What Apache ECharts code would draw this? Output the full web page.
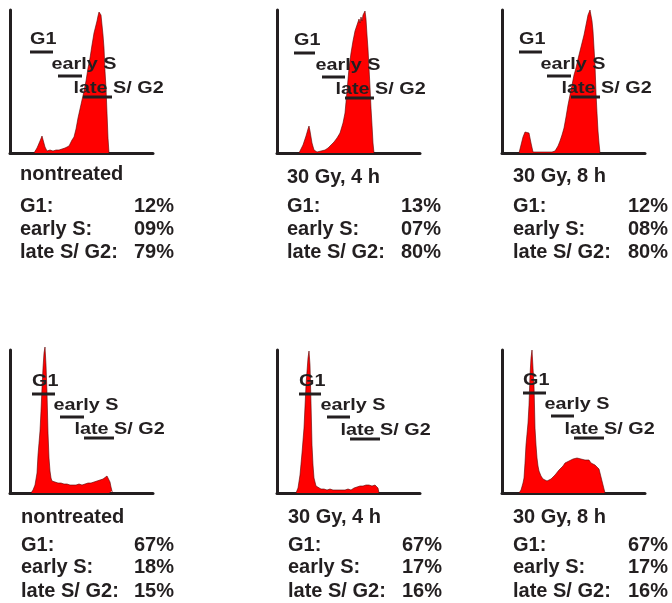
<!DOCTYPE html>
<html>
<head>
<meta charset="utf-8">
<script src="https://cdn.jsdelivr.net/npm/echarts@6/dist/echarts.min.js"></script>
<style>html,body{margin:0;padding:0;background:#fff}#c{width:672px;height:603px}</style>
</head>
<body>
<div id="c"></div>
<script>
// ---- data (channel, count) ----
const histTop1 = [[24,0],[27,5],[30,12],[32,17],[33,15],[35,6],[37,2],[40,3],[43,2],[46,3],[49,3],[52,4],[55,5],[57,4],[59,7],[61,9],[62,13],[64,16],[66,24],[68,35],[70,44],[72,53],[74,62],[76,72],[78,85],[80,95],[82,108],[84,120],[86,128],[87,132],[88,137],[89,141],[90,143],[91,138],[92,128],[93,118],[94,105],[95,82],[96,65],[97,40],[98,15],[99,0]];
const histTop2 = [[22,0],[26,8],[29,17],[31,24],[32,27],[33,22],[35,10],[37,3],[40,1],[44,2],[48,3],[51,5],[54,8],[57,11],[60,15],[63,20],[66,30],[68,40],[70,62],[72,85],[74,100],[76,112],[78,122],[80,128],[82,134],[83,130],[84,136],[85,132],[86,138],[87,136],[88,142],[89,134],[90,118],[91,104],[92,85],[93,66],[94,45],[95,28],[96,10],[97,0]];
const histTop3 = [[17,0],[19,8],[21,16],[23,21],[25,23],[27,20],[29,10],[31,1],[35,1],[40,1],[45,1],[50,1],[53,2],[56,7],[58,12],[60,18],[62,25],[64,36],[66,48],[68,58],[70,68],[72,78],[74,85],[76,94],[78,102],[80,110],[82,118],[84,128],[86,138],[88,143],[89,142],[90,132],[91,122],[92,105],[93,88],[94,60],[95,40],[96,22],[97,10],[98,0]];
const histBot1 = [[21,0],[23,3],[25,8],[27,20],[28,38],[30,62],[31,82],[32,105],[33,125],[34,140],[35,146],[36,128],[37,100],[38,60],[39,35],[40,22],[41,15],[42,12],[45,11],[48,10],[51,10],[54,9],[57,9],[60,8],[63,8],[66,8],[69,9],[72,8],[75,9],[78,10],[81,10],[84,11],[87,12],[90,13],[93,14],[95,16],[97,17],[99,15],[100,11],[101,6],[102,2],[103,0]];
const histBot2 = [[19,0],[21,5],[23,18],[25,40],[27,65],[29,108],[31,135],[32,142],[33,128],[34,90],[35,48],[36,28],[37,15],[39,7],[41,5],[44,4],[47,4],[50,3],[53,4],[56,3],[59,3],[62,3],[65,3],[68,3],[71,4],[74,3],[77,5],[80,6],[83,7],[86,7],[89,8],[92,8],[95,7],[98,8],[100,9],[101,5],[102,0]];
const histBot3 = [[17,0],[19,3],[21,10],[22,15],[23,30],[24,48],[26,70],[27,88],[28,118],[29,135],[30,143],[31,125],[32,108],[33,65],[34,48],[35,35],[36,27],[37,22],[39,17],[41,14],[43,13],[45,12],[47,13],[49,14],[51,16],[53,18],[55,20],[57,23],[59,25],[61,27],[63,30],[65,31],[67,32],[69,33],[71,34],[73,33],[75,35],[77,36],[79,34],[81,35],[83,33],[85,32],[87,33],[89,30],[91,31],[93,28],[95,27],[97,24],[98,20],[99,16],[100,12],[101,8],[102,4],[103,0]];

// gates: [start channel, end channel, marker level]
const gateNames = ['G1', 'early S', 'late S/ G2'];
const gatesTop1 = [[20,43,101],[48,72,77],[73,102,56]];
const gatesTop2 = [[17,38,100],[45,68,76],[68,97,55]];
const gatesTop3 = [[17,40,101],[45,69,77],[69,98,56]];
const gatesBot1 = [[22,45,99],[50,74,76],[74,104,55]];
const gatesBot2 = [[22,44,99],[50,73,76],[73,103,54]];
const gatesBot3 = [[21,44,100],[49,72,77],[72,102,55]];

const titles = ['nontreated', '30 Gy, 4 h', '30 Gy, 8 h', 'nontreated', '30 Gy, 4 h', '30 Gy, 8 h'];
const rowLabels = ['G1:', 'early S:', 'late S/ G2:'];
const pctG1 = ['12%', '13%', '12%', '67%', '67%', '67%'];
const pctEarlyS = ['09%', '07%', '08%', '18%', '17%', '17%'];
const pctLateSG2 = ['79%', '80%', '80%', '15%', '16%', '16%'];

const hists = [histTop1, histTop2, histTop3, histBot1, histBot2, histBot3];
const gates = [gatesTop1, gatesTop2, gatesTop3, gatesBot1, gatesBot2, gatesBot3];

// ---- layout ----
const axisMax = 143;
const gridPos = [[10,10],[277,10],[502,10],[10,350],[277,350],[502,350]];
const textLeft = [20, 287, 513, 21, 288, 513];
const valRight = [174, 441, 668, 174, 442, 668];
const titleY = [[174, 177, 176], [517, 517, 517]];
const rowsY = [[206, 229, 252], [545, 567.5, 591.5]];
const INK = '#231f20';
const FONT = '"Liberation Sans", Arial, sans-serif';
const labelOffsets = [[0, 7], [-6.5, 6.5], [-9.5, 3]];

const chart = echarts.init(document.getElementById('c'), null, {renderer: 'canvas'});

const grid = [], xAxis = [], yAxis = [], series = [], graphic = [];
gridPos.forEach((p, i) => {
  grid.push({left: p[0], top: p[1], width: axisMax, height: axisMax});
  const ax = {
    type: 'value', min: 0, max: axisMax, gridIndex: i,
    axisLine: {show: true, lineStyle: {color: INK, width: 3}},
    axisTick: {show: false}, axisLabel: {show: false}, splitLine: {show: false}
  };
  xAxis.push(Object.assign({}, ax));
  yAxis.push(Object.assign({}, ax));
  series.push({
    type: 'line', xAxisIndex: i, yAxisIndex: i, data: hists[i],
    showSymbol: false, clip: false, z: 2,
    lineStyle: {color: '#5a0000', width: 0.6},
    areaStyle: {color: '#ff0000', opacity: 1}
  });
  series.push({
    type: 'custom', xAxisIndex: i, yAxisIndex: i, z: 5, clip: false,
    data: gates[i].map((g, k) => [g[0], g[1], g[2], k]),
    renderItem: function (params, api) {
      const k = api.value(3);
      const a = api.coord([api.value(0), api.value(2)]);
      const b = api.coord([api.value(1), api.value(2)]);
      const off = labelOffsets[k];
      const fs = 16.5;
      return {
        type: 'group',
        children: [
          {type: 'line', shape: {x1: a[0], y1: a[1], x2: b[0], y2: b[1]},
           style: {stroke: INK, lineWidth: 3}},
          {type: 'text', x: a[0] + off[0], y: a[1] - off[1] - 0.31 * fs, scaleX: 1.2,
           style: {text: gateNames[k], x: 0, y: 0, fill: INK, fontSize: fs,
                   fontWeight: 'bold', fontFamily: FONT, align: 'left', verticalAlign: 'middle'}}
        ]
      };
    }
  });
  const row = i < 3 ? 0 : 1;
  const col = i % 3;
  const txt = (x, y, s, align) => ({
    type: 'text', x: x, y: y,
    style: {text: s, fill: INK, font: 'bold 20px ' + FONT, textAlign: align, textVerticalAlign: 'middle'}
  });
  graphic.push(txt(textLeft[i], titleY[row][col], titles[i], 'left'));
  const vals = [pctG1[i], pctEarlyS[i], pctLateSG2[i]];
  rowLabels.forEach((lab, r) => {
    graphic.push(txt(textLeft[i], rowsY[row][r], lab, 'left'));
    graphic.push(txt(valRight[i], rowsY[row][r], vals[r], 'right'));
  });
});

chart.setOption({
  animation: false,
  backgroundColor: '#ffffff',
  grid, xAxis, yAxis, series, graphic
});
</script>
</body>
</html>
